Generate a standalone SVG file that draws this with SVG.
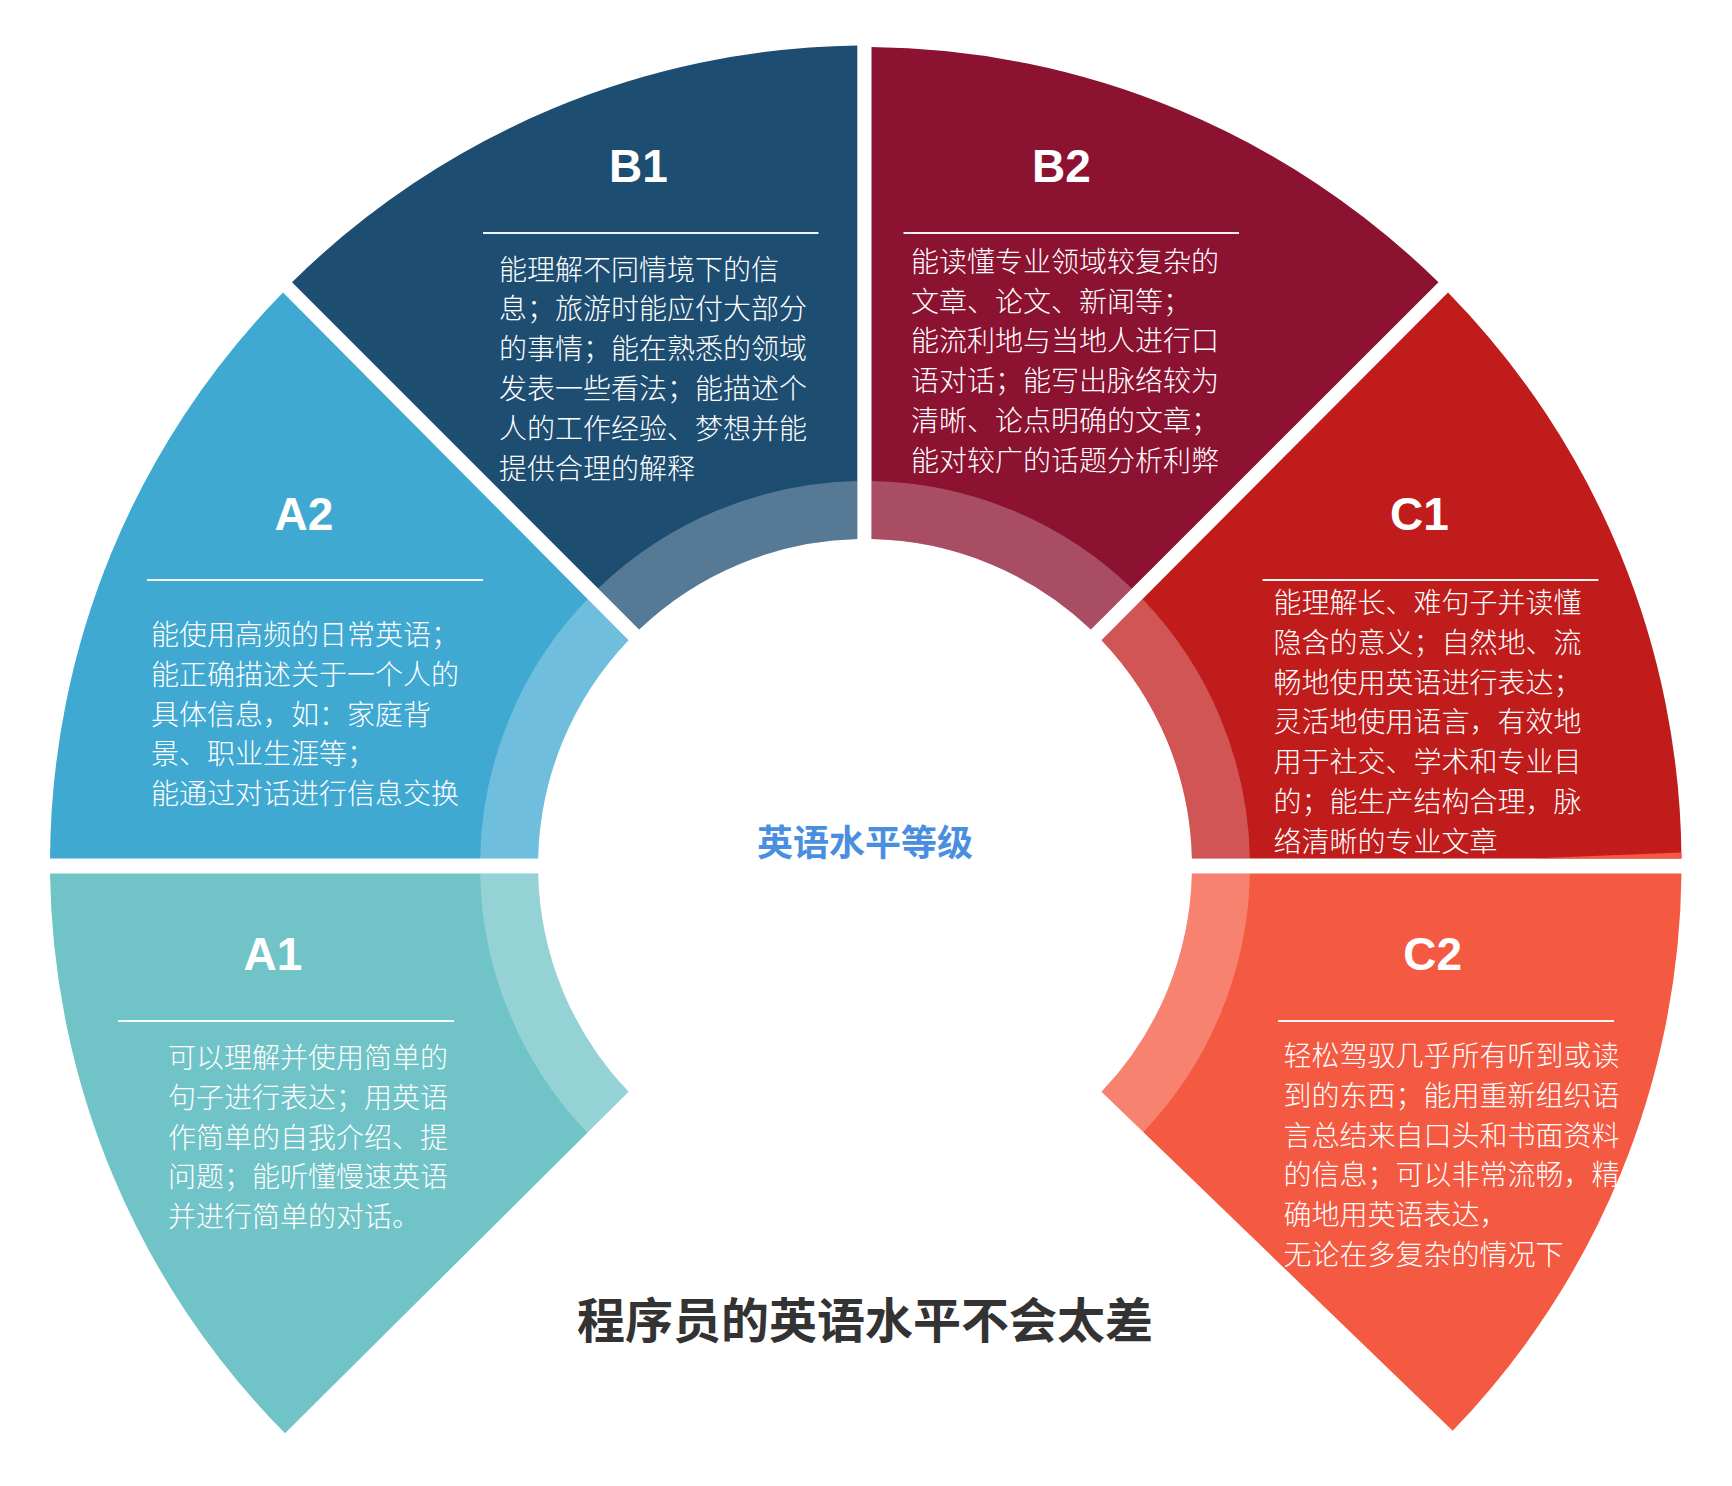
<svg xmlns="http://www.w3.org/2000/svg" width="1732" height="1486" viewBox="0 0 1732 1486">
<style>
.ring{fill:#ffffff;fill-opacity:0.25}
.title{font-family:"Liberation Sans",Arial,sans-serif;font-weight:bold;font-size:46px;fill:#ffffff;text-anchor:middle}
.body{font-family:"Noto Sans CJK SC","Noto Sans",sans-serif;font-weight:300;font-size:28px;fill:#ffffff}
.rule{stroke:#ffffff;stroke-width:2;stroke-opacity:0.95}
.center{font-family:"Noto Sans CJK SC",sans-serif;font-weight:bold;font-size:36px;fill:#4a8fdf;text-anchor:middle}
.caption{font-family:"Noto Sans CJK SC",sans-serif;font-weight:bold;font-size:48px;fill:#333333;text-anchor:middle}
</style>
<rect width="1732" height="1486" fill="#ffffff"/>

<g id="node-A1">
<path fill="#70c3c7" d="M285 1433.3 A812 812 0 0 1 50 873.5 L538.09 873.5 A327 327 0 0 0 628.53 1091.86 Z"/>
<path class="ring" d="M587.51 1132.88 A385 385 0 0 1 480.07 873.5 L538.09 873.5 A327 327 0 0 0 628.53 1091.86 Z"/>
<text class="title" x="273" y="969.5">A1</text>
<line class="rule" x1="118" y1="1021" x2="454" y2="1021"/>
<text class="body"><tspan x="168" y="1068">可以理解并使用简单的</tspan><tspan x="168" y="1107.8">句子进行表达；用英语</tspan><tspan x="168" y="1147.6">作简单的自我介绍、提</tspan><tspan x="168" y="1187.4">问题；能听懂慢速英语</tspan><tspan x="168" y="1227.2">并进行简单的对话。</tspan></text>
</g>

<g id="node-A2">
<path fill="#3fa9d2" d="M50 858.5 A816 816 0 0 1 283 292.5 L628.53 640.14 A327 327 0 0 0 538.09 858.5 Z"/>
<path class="ring" d="M480.07 858.5 A385 385 0 0 1 587.51 599.12 L628.53 640.14 A327 327 0 0 0 538.09 858.5 Z"/>
<text class="title" x="304" y="530">A2</text>
<line class="rule" x1="147" y1="580" x2="483" y2="580"/>
<text class="body"><tspan x="151" y="645">能使用高频的日常英语；</tspan><tspan x="151" y="684.8">能正确描述关于一个人的</tspan><tspan x="151" y="724.6">具体信息，如：家庭背</tspan><tspan x="151" y="764.4">景、职业生涯等；</tspan><tspan x="151" y="804.2">能通过对话进行信息交换</tspan></text>
</g>

<g id="node-B1">
<path fill="#1e4d72" d="M292 282.3 A820 820 0 0 1 857.3 45.5 L857.3 539.09 A327 327 0 0 0 639.14 629.53 Z"/>
<path class="ring" d="M598.12 588.51 A385 385 0 0 1 857.3 481.07 L857.3 539.09 A327 327 0 0 0 639.14 629.53 Z"/>
<text class="title" x="638.5" y="182">B1</text>
<line class="rule" x1="483" y1="233" x2="818.5" y2="233"/>
<text class="body"><tspan x="499" y="279.5">能理解不同情境下的信</tspan><tspan x="499" y="319.3">息；旅游时能应付大部分</tspan><tspan x="499" y="359.1">的事情；能在熟悉的领域</tspan><tspan x="499" y="398.9">发表一些看法；能描述个</tspan><tspan x="499" y="438.7">人的工作经验、梦想并能</tspan><tspan x="499" y="478.5">提供合理的解释</tspan></text>
</g>

<g id="node-B2">
<path fill="#8c1231" d="M871.5 47 A820 820 0 0 1 1438.5 282.3 L1090.86 629.53 A327 327 0 0 0 871.5 539.09 Z"/>
<path class="ring" d="M871.5 481.07 A385 385 0 0 1 1131.88 588.51 L1090.86 629.53 A327 327 0 0 0 871.5 539.09 Z"/>
<text class="title" x="1061.5" y="182">B2</text>
<line class="rule" x1="903.5" y1="233" x2="1239" y2="233"/>
<text class="body"><tspan x="911" y="271.8">能读懂专业领域较复杂的</tspan><tspan x="911" y="311.6">文章、论文、新闻等；</tspan><tspan x="911" y="351.4">能流利地与当地人进行口</tspan><tspan x="911" y="391.2">语对话；能写出脉络较为</tspan><tspan x="911" y="431">清晰、论点明确的文章；</tspan><tspan x="911" y="470.8">能对较广的话题分析利弊</tspan></text>
</g>

<g id="node-C1">
<path fill="#c01c1b" d="M1448 292.5 A816 816 0 0 1 1681.5 858.5 L1191.91 858.5 A327 327 0 0 0 1101.47 640.14 Z"/>
<path class="ring" d="M1142.49 599.12 A385 385 0 0 1 1249.93 858.5 L1191.91 858.5 A327 327 0 0 0 1101.47 640.14 Z"/>
<text class="title" x="1419.5" y="530">C1</text>
<line class="rule" x1="1262.6" y1="580" x2="1598.4" y2="580"/>
<text class="body"><tspan x="1273.6" y="613">能理解长、难句子并读懂</tspan><tspan x="1273.6" y="652.8">隐含的意义；自然地、流</tspan><tspan x="1273.6" y="692.6">畅地使用英语进行表达；</tspan><tspan x="1273.6" y="732.4">灵活地使用语言，有效地</tspan><tspan x="1273.6" y="772.2">用于社交、学术和专业目</tspan><tspan x="1273.6" y="812">的；能生产结构合理，脉</tspan><tspan x="1273.6" y="851.8">络清晰的专业文章</tspan></text>
</g>

<g id="node-C2">
<path fill="#f45941" d="M1681.5 873.5 A814 814 0 0 1 1452.7 1430.7 L1101.47 1091.86 A327 327 0 0 0 1191.91 873.5 Z"/>
<path class="ring" d="M1249.93 873.5 A385 385 0 0 1 1142.49 1132.88 L1101.47 1091.86 A327 327 0 0 0 1191.91 873.5 Z"/>
<polygon fill="#f45941" points="1530,858.5 1681.2,852.5 1681.5,858.5"/>
<text class="title" x="1432.7" y="969.5">C2</text>
<line class="rule" x1="1278" y1="1021" x2="1614" y2="1021"/>
<text class="body"><tspan x="1283.5" y="1066">轻松驾驭几乎所有听到或读</tspan><tspan x="1283.5" y="1105.8">到的东西；能用重新组织语</tspan><tspan x="1283.5" y="1145.6">言总结来自口头和书面资料</tspan><tspan x="1283.5" y="1185.4">的信息；可以非常流畅，精</tspan><tspan x="1283.5" y="1225.2">确地用英语表达，</tspan><tspan x="1283.5" y="1265">无论在多复杂的情况下</tspan></text>
</g>

<g id="node-center">
<text class="center" x="865" y="856">英语水平等级</text>
</g>

<g id="caption">
<text class="caption" x="865" y="1338">程序员的英语水平不会太差</text>
</g>
</svg>
